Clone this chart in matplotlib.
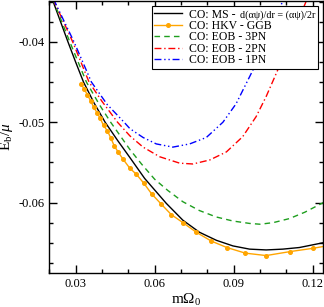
import matplotlib
matplotlib.use("Agg")
import matplotlib.pyplot as plt
from matplotlib.ticker import MultipleLocator, FormatStrFormatter
from matplotlib.offsetbox import HPacker, TextArea

plt.rcParams.update({
    "font.family": "serif",
    "font.serif": ["Liberation Serif", "DejaVu Serif"],
    "mathtext.fontset": "custom",
    "mathtext.rm": "Liberation Serif",
    "mathtext.it": "Liberation Serif:italic",
    "axes.unicode_minus": False,
})

# ── Data ─────────────────────────────────────────────────────────────────────
ms_x = [0.0200, 0.0215, 0.0243, 0.0271, 0.0300, 0.0330, 0.0370, 0.0412, 0.0460,
        0.0506, 0.0562, 0.0644, 0.0707, 0.0770, 0.0834, 0.0897, 0.0960, 0.1023,
        0.1086, 0.1149, 0.1240]
ms_y = [-0.0337, -0.0350, -0.0375, -0.0400, -0.0425, -0.0450, -0.0476, -0.0500,
        -0.0523, -0.0544, -0.0570, -0.0601, -0.0622, -0.0637, -0.0647, -0.0654,
        -0.0658, -0.0659, -0.0658, -0.0656, -0.0650]

hkv_x = [0.0320, 0.0333, 0.0345, 0.0358, 0.0368, 0.0381, 0.0393, 0.0406, 0.0421,
         0.0434, 0.0446, 0.0461, 0.0480, 0.0505, 0.0531, 0.0559, 0.0588, 0.0625,
         0.0663, 0.0707, 0.0758, 0.0815, 0.0874, 0.0944, 0.1023, 0.1115, 0.1200,
         0.1270]
hkv_y = [-0.0452, -0.0459, -0.0466, -0.0474, -0.0481, -0.0488, -0.0495, -0.0504,
         -0.0511, -0.0520, -0.0529, -0.0537, -0.0546, -0.0557, -0.0565, -0.0576,
         -0.0589, -0.0602, -0.0615, -0.0625, -0.0637, -0.0648, -0.0656, -0.0663,
         -0.0666, -0.0661, -0.0657, -0.0653]

eob3_x = [0.0200, 0.0215, 0.0278, 0.0341, 0.0390, 0.0433, 0.0506, 0.0550, 0.0600,
          0.0650, 0.0707, 0.0770, 0.0834, 0.0897, 0.0960, 0.1000, 0.1050, 0.1111,
          0.1170, 0.1240]
eob3_y = [-0.0336, -0.0348, -0.0400, -0.0450, -0.0478, -0.0500, -0.0534, -0.0552,
          -0.0571, -0.0585, -0.0599, -0.0610, -0.0618, -0.0623, -0.0626, -0.0627,
          -0.0625, -0.0620, -0.0612, -0.0600]

eob2_x = [0.0200, 0.0215, 0.0289, 0.0351, 0.0400, 0.0459, 0.0506, 0.0556, 0.0619,
          0.0695, 0.0745, 0.0809, 0.0872, 0.0934, 0.0985, 0.1023, 0.1055, 0.1076,
          0.1125, 0.1174, 0.1190]
eob2_y = [-0.0335, -0.0347, -0.0400, -0.0450, -0.0474, -0.0500, -0.0517, -0.0531,
          -0.0543, -0.0551, -0.0552, -0.0547, -0.0537, -0.0518, -0.0493, -0.0468,
          -0.0444, -0.0428, -0.0390, -0.0350, -0.0338]

eob1_x = [0.0200, 0.0215, 0.0294, 0.0360, 0.0420, 0.0484, 0.0506, 0.0556, 0.0606,
          0.0669, 0.0733, 0.0796, 0.0859, 0.0909, 0.0947, 0.0979, 0.1035, 0.1086,
          0.1100]
eob1_y = [-0.0335, -0.0346, -0.0400, -0.0450, -0.0478, -0.0500, -0.0508, -0.0519,
          -0.0527, -0.0531, -0.0527, -0.0519, -0.0500, -0.0477, -0.0452, -0.0431,
          -0.0390, -0.0349, -0.0338]

LABEL_MS_MAIN = "CO: MS - "
LABEL_MS_SMALL = "d(\u03b1\u03c8)/dr = (\u03b1\u03c8)/2r"
LEG_FS = 8.5

# ── Plot ─────────────────────────────────────────────────────────────────────
fig = plt.figure(figsize=(3.24, 3.07), dpi=100)
ax = fig.add_axes([0.152, 0.110, 0.846, 0.887])

ax.plot(ms_x, ms_y, color="black", lw=1.0, label=LABEL_MS_MAIN)
ax.plot(hkv_x, hkv_y, color="#ffa500", lw=1.0, marker="o", ms=2.6,
        label="CO: HKV - GGB")
ax.plot(eob3_x, eob3_y, color="#1e9e1e", lw=1.0, ls=(0, (4, 3)),
        label="CO: EOB - 3PN")
ax.plot(eob2_x, eob2_y, color="#ff0000", lw=1.0, ls=(0, (5, 2, 1, 2)),
        label="CO: EOB - 2PN")
ax.plot(eob1_x, eob1_y, color="#0000ff", lw=1.0, ls=(0, (5, 2, 1, 2, 1, 2)),
        label="CO: EOB - 1PN")

ax.set_xlim(0.02, 0.124)
ax.set_ylim(-0.0688, -0.0349)
ax.xaxis.set_major_locator(MultipleLocator(0.03))
ax.xaxis.set_minor_locator(MultipleLocator(0.01))
ax.yaxis.set_major_locator(MultipleLocator(0.01))
ax.yaxis.set_minor_locator(MultipleLocator(0.0025))
ax.xaxis.set_major_formatter(FormatStrFormatter("%.2f"))
ax.yaxis.set_major_formatter(FormatStrFormatter("%.2f"))
ax.tick_params(which="both", direction="in", top=True, right=True,
               labelsize=9, width=1.0)
ax.tick_params(which="major", length=5.5)
ax.tick_params(which="minor", length=3)
for sp in ax.spines.values():
    sp.set_linewidth(1.0)

ax.set_xlabel(r"m$\Omega_\mathregular{0}$", fontsize=11, labelpad=1)
ax.set_ylabel(r"E$_\mathregular{b}$/$\mu$", fontsize=11, labelpad=2)

leg = ax.legend(loc="upper right", fontsize=LEG_FS, frameon=True, fancybox=False,
                edgecolor="black", framealpha=1, borderaxespad=0.45,
                handlelength=2.4, handletextpad=0.6, labelspacing=-0.05,
                borderpad=0.2)
leg.get_frame().set_linewidth(0.8)

# first legend label: main part + smaller formula, packed on one baseline
row0 = leg._legend_handle_box.get_children()[0].get_children()[0]
mixed = HPacker(children=[
    TextArea(LABEL_MS_MAIN, textprops=dict(fontsize=LEG_FS)),
    TextArea(LABEL_MS_SMALL, textprops=dict(fontsize=7.3)),
], align="baseline", pad=0, sep=1)
row0._children[1] = mixed
leg._legend_box.set_figure(fig)

fig.savefig("out.png", dpi=100)
